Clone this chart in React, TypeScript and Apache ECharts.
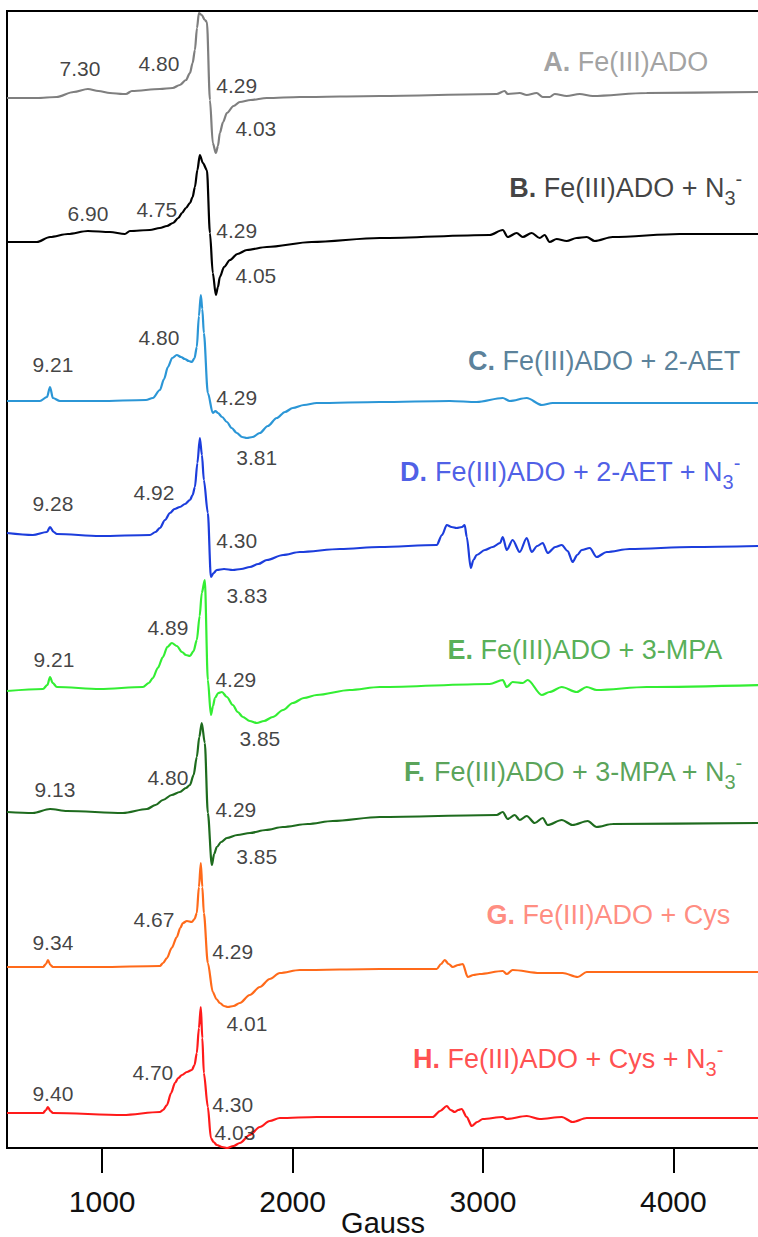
import React, { useEffect, useRef } from "react";
import * as echarts from "echarts";

// Field (Gauss) vs. derivative signal (arbitrary units, relative to each trace's baseline)
const traceA: [number, number][] = [
  [500, 0], [657, 0], [760, 1], [850, 6], [925, 9], [980, 7], [1041, 5], [1109, 4], [1125, 4], [1156, 7], [1303, 9],
  [1370, 10], [1408, 13], [1440, 18], [1461, 25], [1475, 35], [1487, 48], [1498, 70], [1508, 85], [1523, 83],
  [1539, 78], [1550, 76], [1566, -2], [1581, -45], [1597, -55], [1608, -48], [1618, -35], [1635, -24], [1655, -15],
  [1690, -8], [1723, -4], [1780, -2], [1865, 0], [2038, 1], [2458, 2], [3072, 4], [3114, 7], [3130, 4],
  [3193, 5], [3230, 3], [3282, 5], [3314, 1], [3350, 1], [3377, 4], [3440, 2], [3508, 4], [3576, 2], [3860, 5], [4450, 6],
];
const traceB: [number, number][] = [
  [500, 0], [657, 0], [726, 5], [820, 8], [925, 11], [1041, 10], [1119, 8], [1146, 11], [1250, 12], [1303, 14],
  [1340, 16], [1372, 19], [1400, 24], [1419, 29], [1440, 34], [1461, 39], [1475, 45], [1487, 55], [1500, 72],
  [1513, 87], [1529, 79], [1550, 72], [1566, 9], [1581, -31], [1597, -53], [1608, -45], [1618, -35], [1640, -25],
  [1671, -18], [1710, -12], [1760, -8], [1865, -5], [2100, 0], [2458, 4], [3035, 7], [3104, 12], [3130, 5],
  [3177, 9], [3209, 5], [3256, 9], [3298, 4], [3324, 7], [3350, 0], [3387, 3], [3440, 1], [3492, 4], [3545, 5],
  [3587, 1], [3681, 5], [4033, 8], [4450, 8],
];
const traceC: [number, number][] = [
  [500, 0], [673, 0], [710, 4], [726, 14], [741, 3], [778, 0], [988, 0], [1230, 1], [1266, 3], [1303, 11],
  [1325, 22], [1345, 34], [1368, 43], [1392, 46], [1414, 44], [1434, 42], [1455, 40], [1471, 39], [1485, 43],
  [1497, 54], [1508, 85], [1518, 106], [1526, 92], [1534, 68], [1555, 8], [1581, -12], [1595, -10], [1608, -12],
  [1630, -16], [1655, -21], [1680, -27], [1707, -32], [1735, -36], [1760, -37], [1790, -36], [1828, -32],
  [1870, -25], [1917, -17], [1960, -11], [2001, -7], [2060, -4], [2127, -2], [2458, -1], [2826, 0], [2967, -1],
  [3104, 3], [3141, 0], [3230, 3], [3309, -4], [3366, -2], [3492, -2], [4450, -2],
];
const traceD: [number, number][] = [
  [500, 0], [636, -2], [710, 1], [726, 6], [745, 1], [762, -1], [988, -3], [1251, -2], [1280, 1], [1303, 5],
  [1330, 13], [1356, 20], [1380, 24], [1408, 26], [1435, 29], [1461, 33], [1475, 38], [1487, 46], [1500, 70],
  [1513, 95], [1524, 78], [1534, 53], [1555, 20], [1571, -44], [1585, -40], [1602, -37], [1640, -36], [1686, -37],
  [1730, -36], [1776, -34], [1820, -31], [1865, -27], [1950, -22], [2038, -19], [2250, -16], [2458, -14], [2757, -12],
  [2785, -2], [2810, 8], [2835, 6], [2862, 5], [2890, 6], [2904, 8], [2915, -4], [2936, -35], [2950, -27],
  [2967, -22], [3010, -17], [3051, -14], [3090, -10], [3104, -4], [3125, -17], [3156, -7], [3193, -19], [3230, -5],
  [3256, -19], [3285, -13], [3314, -10], [3340, -20], [3380, -14], [3414, -12], [3445, -18], [3471, -29], [3495, -22],
  [3519, -17], [3561, -15], [3597, -24], [3650, -19], [3770, -16], [4100, -14], [4450, -13],
];
const traceE: [number, number][] = [
  [500, 0], [689, 2], [712, 6], [726, 14], [740, 8], [762, 4], [988, 2], [1214, 4], [1245, 8], [1266, 13],
  [1292, 23], [1319, 34], [1342, 44], [1366, 48], [1392, 45], [1419, 39], [1440, 36], [1461, 35], [1480, 40],
  [1497, 51], [1512, 75], [1523, 98], [1539, 111], [1555, 11], [1571, -24], [1582, -15], [1592, -7], [1610, -2],
  [1629, -1], [1655, -6], [1686, -14], [1712, -21], [1739, -26], [1775, -30], [1812, -32], [1850, -30], [1896, -26],
  [1950, -19], [2001, -12], [2060, -7], [2127, -4], [2300, 1], [2458, 4], [3035, 7], [3104, 11], [3125, 4],
  [3156, 9], [3209, 8], [3235, 11], [3309, -4], [3350, -1], [3414, 4], [3492, -1], [3545, 4], [3597, 1], [3860, 4], [4450, 6],
];
const traceF: [number, number][] = [
  [500, 0], [636, -1], [726, 3], [815, 1], [1109, -1], [1235, 3], [1280, 7], [1319, 12], [1365, 17], [1408, 20],
  [1440, 24], [1461, 27], [1480, 37], [1497, 55], [1510, 75], [1523, 89], [1539, 69], [1555, -1], [1576, -53],
  [1588, -42], [1602, -35], [1625, -30], [1655, -26], [1710, -23], [1776, -21], [1860, -18], [1949, -15],
  [2080, -12], [2211, -9], [2458, -5], [3072, -3], [3104, 0], [3130, -7], [3167, -3], [3193, -8], [3230, -4],
  [3272, -11], [3314, -6], [3340, -13], [3414, -8], [3471, -13], [3550, -9], [3597, -15], [3681, -12], [4450, -11],
];
const traceG: [number, number][] = [
  [500, 0], [689, 0], [705, 3], [715, 7], [728, 2], [741, 0], [988, 0], [1303, 1], [1320, 4], [1340, 9],
  [1365, 19], [1392, 30], [1410, 39], [1424, 44], [1445, 46], [1471, 45], [1485, 48], [1497, 54], [1508, 80],
  [1518, 104], [1526, 80], [1534, 54], [1555, 4], [1581, -25], [1600, -32], [1618, -36], [1640, -39], [1660, -40],
  [1690, -39], [1723, -36], [1775, -28], [1828, -20], [1880, -12], [1933, -6], [2038, -3], [2458, -2], [2757, -2],
  [2780, 3], [2799, 7], [2820, 3], [2841, 0], [2870, 2], [2894, 3], [2920, -10], [2950, -8], [2983, -7],
  [3104, -4], [3125, -7], [3156, -3], [3298, -6], [3419, -6], [3498, -10], [3545, -5], [4450, -5],
];
const traceH: [number, number][] = [
  [500, 0], [689, 0], [705, 3], [715, 6], [728, 2], [741, 0], [1109, -2], [1303, 1], [1320, 3], [1340, 8],
  [1362, 20], [1382, 30], [1400, 35], [1419, 38], [1445, 41], [1471, 43], [1485, 48], [1497, 60], [1508, 85],
  [1518, 106], [1526, 75], [1534, 40], [1555, 6], [1571, -25], [1585, -29], [1602, -32], [1630, -34], [1655, -35],
  [1690, -33], [1723, -30], [1775, -22], [1828, -14], [1880, -8], [1933, -5], [2127, -4], [2458, -4], [2736, -4],
  [2775, 2], [2810, 7], [2830, 3], [2852, 1], [2870, 3], [2888, 4], [2915, -4], [2941, -13], [2970, -9], [2999, -6],
  [3104, -4], [3125, -6], [3230, -3], [3298, -6], [3414, -4], [3471, -9], [3545, -5], [4450, -5],
];

const traces = [traceA, traceB, traceC, traceD, traceE, traceF, traceG, traceH];
const baselines = [1050, 906, 747, 615, 457, 336, 181, 35];
const letters = ["A", "B", "C", "D", "E", "F", "G", "H"];
const sampleNames = [
  "Fe(III)ADO",
  "Fe(III)ADO + N",
  "Fe(III)ADO + 2-AET",
  "Fe(III)ADO + 2-AET + N",
  "Fe(III)ADO + 3-MPA",
  "Fe(III)ADO + 3-MPA + N",
  "Fe(III)ADO + Cys",
  "Fe(III)ADO + Cys + N",
];
const hasAzide = [false, true, false, true, false, true, false, true];

// g-values marked on each spectrum
const gValues = [
  ["7.30", "4.80", "4.29", "4.03"],
  ["6.90", "4.75", "4.29", "4.05"],
  ["9.21", "4.80", "4.29", "3.81"],
  ["9.28", "4.92", "4.30", "3.83"],
  ["9.21", "4.89", "4.29", "3.85"],
  ["9.13", "4.80", "4.29", "3.85"],
  ["9.34", "4.67", "4.29", "4.01"],
  ["9.40", "4.70", "4.30", "4.03"],
];

const xTicks = [1000, 2000, 3000, 4000];

// ---- layout (annotation anchors in data coordinates) ----
const gLabelAnchors: [number, number][][] = [
  [[883, 1080], [1298, 1085], [1707, 1063], [1807, 1020]],
  [[925, 935], [1287, 939], [1707, 918], [1807, 873]],
  [[741, 784], [1298, 811], [1707, 751], [1812, 691]],
  [[741, 645], [1272, 656], [1707, 608], [1760, 553]],
  [[747, 489], [1345, 521], [1702, 469], [1828, 410]],
  [[752, 359], [1345, 371], [1702, 339], [1812, 292]],
  [[741, 206], [1272, 229], [1686, 197], [1760, 125]],
  [[741, 55], [1266, 76], [1686, 44], [1697, 16]],
];
const titleAnchors: [number, number][] = [
  [4184, 1086], [4362, 960], [4352, 787], [4352, 676], [4257, 498], [4362, 376], [4299, 233], [4263, 89],
];
const lineColors = ["#7f7f7f", "#000000", "#2b96d6", "#1c3ddc", "#33ee33", "#1e6b1e", "#ff6a1a", "#ff1a1a"];
const titleColors = ["#8a8a8a", "#111111", "#2f5f80", "#1f35e0", "#2b9a2b", "#2e8b2e", "#ff6f5f", "#ff2222"];

const FONT = "'Liberation Sans', Arial, Helvetica, sans-serif";

export default function App() {
  const ref = useRef<HTMLDivElement>(null);
  useEffect(() => {
    if (!ref.current) return;
    const chart = echarts.init(ref.current, null, { renderer: "svg" });

    const lineSeries = traces.map((tr, i) => ({
      type: "line",
      name: letters[i],
      data: tr.map(([x, s]) => [x, s + baselines[i]]),
      symbol: "none",
      smooth: 0.3,
      smoothMonotone: "x",
      lineStyle: { color: lineColors[i], width: 2.2 },
      silent: true,
      z: 3,
    }));

    const gSeries = gValues.map((vals, i) => ({
      type: "scatter",
      data: vals.map((v, j) => ({ value: gLabelAnchors[i][j], name: v })),
      symbolSize: 1,
      itemStyle: { color: "rgba(0,0,0,0)" },
      silent: true,
      label: {
        show: true,
        position: "inside",
        formatter: (p: any) => p.name,
        color: "#111",
        fontSize: 21,
        fontFamily: FONT,
      },
      z: 5,
    }));

    const titleSeries = {
      type: "scatter",
      data: titleAnchors.map((a, i) => ({ value: a, name: letters[i] })),
      symbolSize: 1,
      itemStyle: { color: "rgba(0,0,0,0)" },
      silent: true,
      label: {
        show: true,
        position: "inside",
        align: "right",
        formatter: (p: any) => {
          const i = p.dataIndex;
          let s = `{b${i}|${letters[i]}.}{n${i}| ${sampleNames[i]}}`;
          if (hasAzide[i]) s += `{sub${i}|3}{sup${i}|-}`;
          return s;
        },
        rich: Object.fromEntries(
          letters.flatMap((_, i) => [
            [`b${i}`, { fontSize: 27, fontWeight: "bold", color: titleColors[i], fontFamily: FONT, lineHeight: 39 }],
            [`n${i}`, { fontSize: 27, color: titleColors[i], fontFamily: FONT, lineHeight: 39 }],
            [`sub${i}`, { fontSize: 20, color: titleColors[i], fontFamily: FONT, lineHeight: 20, verticalAlign: "bottom" }],
            [`sup${i}`, { fontSize: 20, color: titleColors[i], fontFamily: FONT, lineHeight: 32, verticalAlign: "top" }],
          ])
        ),
      },
      z: 5,
    };

    chart.setOption({
      animation: false,
      grid: {
        left: 7,
        top: 11,
        width: 752,
        height: 1137,
        show: true,
        borderColor: "#000",
        borderWidth: 2,
        backgroundColor: "transparent",
        containLabel: false,
        outerBoundsMode: "none",
      },
      xAxis: {
        type: "value",
        min: 500,
        max: 4450,
        name: "Gauss",
        nameLocation: "middle",
        nameGap: 60,
        nameMoveOverlap: false,
        nameTextStyle: { fontSize: 29, color: "#111", fontFamily: FONT, lineHeight: 29 },
        axisLine: { show: true, lineStyle: { color: "#000", width: 2 } },
        axisTick: {
          show: true,
          inside: false,
          length: 25,
          customValues: xTicks,
          lineStyle: { color: "#000", width: 2 },
        },
        axisLabel: {
          show: true,
          customValues: xTicks,
          formatter: (v: number) => String(v),
          margin: 38,
          fontSize: 30,
          color: "#111",
          fontFamily: FONT,
        },
        splitLine: { show: false },
      },
      yAxis: {
        type: "value",
        min: 0,
        max: 1137,
        show: true,
        axisLine: { show: true, lineStyle: { color: "#000", width: 2 } },
        axisTick: { show: false },
        axisLabel: { show: false },
        splitLine: { show: false },
      },
      series: [...lineSeries, ...gSeries, titleSeries],
    } as any);

    return () => chart.dispose();
  }, []);

  return (
    <div
      ref={ref}
      style={{ position: "fixed", left: 0, top: 0, width: 758, height: 1237, background: "#fff" }}
    />
  );
}
